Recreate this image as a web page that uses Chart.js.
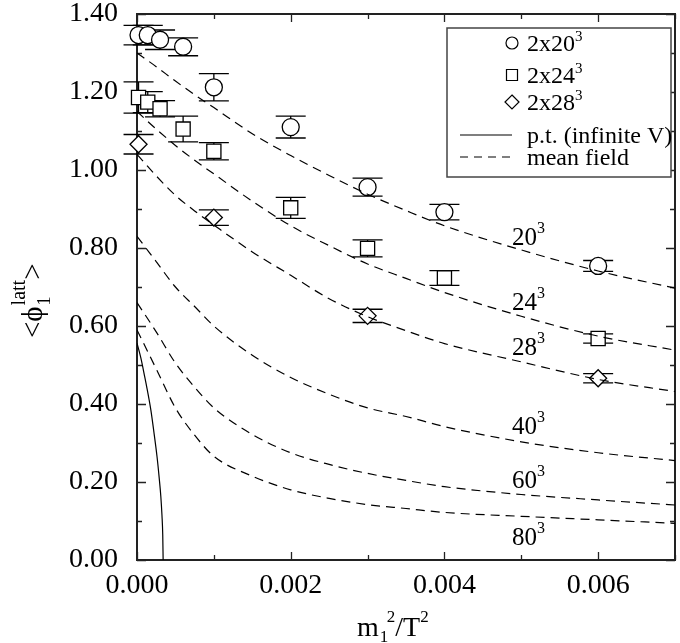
<!DOCTYPE html>
<html>
<head>
<meta charset="utf-8">
<title>phi1 latt vs m1^2/T^2</title>
<script src="https://cdn.jsdelivr.net/npm/chart.js@4.4.0/dist/chart.umd.min.js"></script>
<style>
  html, body { margin: 0; padding: 0; background: #fff; }
  #wrap { width: 680px; height: 643px; }
</style>
</head>
<body>
<div id="wrap"><canvas id="chart" width="680" height="643"></canvas></div>
<script>
// ---- data ----
// lattice points, 2x20^3
const x20 = [0.00002, 0.00014, 0.0003, 0.0006, 0.001, 0.002, 0.003, 0.004, 0.006];
const y20 = [1.346, 1.346, 1.334, 1.316, 1.212, 1.110, 0.956, 0.892, 0.754];
const e20 = [0.025, 0.025, 0.025, 0.023, 0.035, 0.028, 0.023, 0.020, 0.014];
// 2x24^3
const x24 = [0.00002, 0.00014, 0.0003, 0.0006, 0.001, 0.002, 0.003, 0.004, 0.006];
const y24 = [1.186, 1.174, 1.157, 1.105, 1.048, 0.903, 0.799, 0.723, 0.568];
const e24 = [0.040, 0.027, 0.021, 0.033, 0.022, 0.027, 0.022, 0.019, 0.012];
// 2x28^3
const x28 = [0.00002, 0.001, 0.003, 0.006];
const y28 = [1.066, 0.878, 0.626, 0.466];
const e28 = [0.025, 0.020, 0.017, 0.012];

// mean field curves, sampled at the same x values
const mfX  = [0, 0.00025, 0.0005, 0.00075, 0.001, 0.0015, 0.002, 0.0025, 0.003, 0.0035, 0.004, 0.005, 0.006, 0.007];
const mf20 = [1.30, 1.265, 1.228, 1.193, 1.160, 1.093, 1.037, 0.986, 0.938, 0.896, 0.857, 0.795, 0.741, 0.697];
const mf24 = [1.15, 1.105, 1.063, 1.025, 0.990, 0.920, 0.857, 0.806, 0.759, 0.722, 0.686, 0.625, 0.574, 0.538];
const mf28 = [1.04, 0.985, 0.935, 0.895, 0.859, 0.790, 0.730, 0.670, 0.624, 0.588, 0.555, 0.508, 0.463, 0.432];
const mf40 = [0.83, 0.765, 0.700, 0.650, 0.600, 0.525, 0.468, 0.425, 0.390, 0.368, 0.342, 0.303, 0.275, 0.255];
const mf60 = [0.66, 0.585, 0.505, 0.443, 0.390, 0.322, 0.275, 0.245, 0.222, 0.204, 0.188, 0.168, 0.154, 0.141];
const mf80 = [0.59, 0.490, 0.390, 0.320, 0.266, 0.215, 0.180, 0.158, 0.142, 0.132, 0.122, 0.112, 0.103, 0.094];
const mfNames = ['20', '24', '28', '40', '60', '80'];
// where each curve label sits (data units: left x, vertical centre y)
const mfLabelX = 0.00488;
const mfLabelY = [0.828, 0.662, 0.546, 0.344, 0.205, 0.059];

// perturbation theory, infinite volume
const ptX = [0, 0.00005, 0.0001, 0.00013, 0.00018, 0.00022, 0.00026, 0.00029, 0.00031, 0.000325, 0.000335, 0.00034];
const ptY = [0.556, 0.518, 0.470, 0.440, 0.385, 0.328, 0.266, 0.208, 0.163, 0.114, 0.064, 0.0];

// axis ticks
const xMajor = [0, 0.002, 0.004, 0.006];
const xMinor = [0.001, 0.003, 0.005, 0.007];
const yMajor = [0, 0.2, 0.4, 0.6, 0.8, 1.0, 1.2, 1.4];
const yMinor = [0.1, 0.3, 0.5, 0.7, 0.9, 1.1, 1.3];

const FONT = "'Liberation Serif', 'Times New Roman', serif";

const pts = (xs, ys) => xs.map((x, i) => ({ x: x, y: ys[i] }));

// draw a run of text pieces: [text, size, dy, dx]
function drawParts(ctx, x, y, parts) {
  let cx = x;
  parts.forEach(p => {
    const [t, size, dy, dx] = p;
    cx += dx || 0;
    ctx.font = size + 'px ' + FONT;
    ctx.fillText(t, cx, y + (dy || 0));
    cx += ctx.measureText(t).width;
  });
  return cx;
}

function marker(ctx, style, x, y, r) {
  ctx.beginPath();
  if (style === 'circle') {
    ctx.arc(x, y, r, 0, Math.PI * 2);
  } else if (style === 'rect') {
    ctx.rect(x - r, y - r, 2 * r, 2 * r);
  } else {
    ctx.moveTo(x, y - r); ctx.lineTo(x + r, y); ctx.lineTo(x, y + r); ctx.lineTo(x - r, y); ctx.closePath();
  }
  ctx.fillStyle = '#fff';
  ctx.fill();
  ctx.stroke();
}

// frame with inward ticks on all four sides, plus error bars
const framePlugin = {
  id: 'framePlugin',
  beforeDatasetsDraw(chart) {
    const ctx = chart.ctx;
    const a = chart.chartArea;
    const xs = chart.scales.x, ys = chart.scales.y;
    ctx.save();
    ctx.strokeStyle = '#222';
    ctx.lineWidth = 2;
    ctx.strokeRect(a.left, a.top, a.right - a.left, a.bottom - a.top);
    ctx.lineWidth = 1.3;
    ctx.beginPath();
    const xt = (vals, len) => vals.forEach(v => {
      const px = Math.round(xs.getPixelForValue(v)) + 0.5;
      ctx.moveTo(px, a.bottom); ctx.lineTo(px, a.bottom - len);
      ctx.moveTo(px, a.top); ctx.lineTo(px, a.top + len);
    });
    const yt = (vals, len) => vals.forEach(v => {
      const py = Math.round(ys.getPixelForValue(v)) + 0.5;
      ctx.moveTo(a.left, py); ctx.lineTo(a.left + len, py);
      ctx.moveTo(a.right, py); ctx.lineTo(a.right - len, py);
    });
    xt(xMajor, 8); xt(xMinor, 5);
    yt(yMajor, 9); yt(yMinor, 5);
    ctx.stroke();

    // error bars
    ctx.strokeStyle = '#000';
    ctx.lineWidth = 1.3;
    chart.data.datasets.forEach(ds => {
      if (!ds.errs) return;
      ds.data.forEach((p, i) => {
        const px = xs.getPixelForValue(p.x);
        const top = ys.getPixelForValue(p.y + ds.errs[i]);
        const bot = ys.getPixelForValue(p.y - ds.errs[i]);
        ctx.beginPath();
        ctx.moveTo(px, top); ctx.lineTo(px, bot);
        ctx.moveTo(px - 15, top); ctx.lineTo(px + 15, top);
        ctx.moveTo(px - 15, bot); ctx.lineTo(px + 15, bot);
        ctx.stroke();
      });
    });
    ctx.restore();
  },
  afterDraw(chart) {
    const ctx = chart.ctx;
    const xs = chart.scales.x, ys = chart.scales.y;
    ctx.save();
    ctx.fillStyle = '#000';
    ctx.textBaseline = 'alphabetic';

    // curve labels
    mfNames.forEach((n, i) => {
      const lx = xs.getPixelForValue(mfLabelX);
      const ly = ys.getPixelForValue(mfLabelY[i]) + 8;
      drawParts(ctx, lx, ly, [[n, 25, 0], ['3', 16, -12]]);
    });

    // legend
    const bx = 447, by = 28, bw = 224, bh = 149;
    ctx.fillStyle = '#fff';
    ctx.fillRect(bx, by, bw, bh);
    ctx.strokeStyle = '#444';
    ctx.lineWidth = 1.5;
    ctx.strokeRect(bx, by, bw, bh);
    ctx.fillStyle = '#000';
    ctx.strokeStyle = '#000';
    ctx.lineWidth = 1.2;
    const symX = 512, txtX = 527;
    const rows = [
      ['circle', '20', 43, 6],
      ['rect', '24', 75, 5.5],
      ['diamond', '28', 102, 7]
    ];
    rows.forEach(r => {
      marker(ctx, r[0], symX, r[2], r[3]);
      ctx.fillStyle = '#000';
      drawParts(ctx, txtX, r[2] + 8, [['2x' + r[1], 24, 0], ['3', 15, -10]]);
    });
    ctx.beginPath();
    ctx.moveTo(460, 135); ctx.lineTo(512, 135);
    ctx.stroke();
    drawParts(ctx, txtX, 143, [['p.t. (infinite V)', 24, 0]]);
    ctx.setLineDash([8, 6]);
    ctx.beginPath();
    ctx.moveTo(460, 157); ctx.lineTo(512, 157);
    ctx.stroke();
    ctx.setLineDash([]);
    drawParts(ctx, txtX, 165, [['mean field', 24, 0]]);

    // x title: m_1^2/T^2
    let ex = drawParts(ctx, 357, 636, [['m', 28, 0]]);
    ctx.font = '17px ' + FONT;
    ctx.fillText('1', ex + 1, 642);
    ex = drawParts(ctx, ex + 8, 636, [['2', 17, -14], ['/', 28, 0], ['T', 28, 0], ['2', 17, -14]]);

    // y title: <phi_1^latt>, rotated
    ctx.translate(42, 338);
    ctx.rotate(-Math.PI / 2);
    let ey = drawParts(ctx, 0, 0, [['<', 29, 0], ['\u03d5', 29, 0]]);
    ctx.font = '18px ' + FONT;
    ctx.fillText('1', ey + 1, 8);
    drawParts(ctx, ey + 1, 0, [['latt', 20, -17], ['>', 29, 0]]);
    ctx.restore();
  }
};

const markerSet = (label, xs, ys, es, style, r) => ({
  label: label,
  data: pts(xs, ys),
  errs: es,
  showLine: false,
  pointStyle: style,
  pointRadius: r,
  pointHoverRadius: r,
  pointBackgroundColor: '#fff',
  pointBorderColor: '#000',
  pointBorderWidth: 1.3,
  clip: false
});

const curveSet = (label, ys) => ({
  label: label,
  data: pts(mfX, ys),
  showLine: true,
  borderColor: '#000',
  borderWidth: 1.2,
  borderDash: [9, 6],
  pointRadius: 0,
  cubicInterpolationMode: 'monotone',
  fill: false
});

const ctx = document.getElementById('chart').getContext('2d');
new Chart(ctx, {
  type: 'scatter',
  data: {
    datasets: [
      curveSet('20^3', mf20),
      curveSet('24^3', mf24),
      curveSet('28^3', mf28),
      curveSet('40^3', mf40),
      curveSet('60^3', mf60),
      curveSet('80^3', mf80),
      {
        label: 'p.t. (infinite V)',
        data: pts(ptX, ptY),
        showLine: true,
        borderColor: '#000',
        borderWidth: 1.2,
        pointRadius: 0,
        cubicInterpolationMode: 'monotone',
        fill: false
      },
      markerSet('2x20^3', x20, y20, e20, 'circle', 8.5),
      markerSet('2x24^3', x24, y24, e24, 'rect', 10),
      markerSet('2x28^3', x28, y28, e28, 'rectRot', 8.5)
    ]
  },
  options: {
    responsive: false,
    devicePixelRatio: 1,
    animation: false,
    layout: { autoPadding: false, padding: { top: 14, right: 5, left: 0, bottom: 0 } },
    plugins: {
      legend: { display: false },
      tooltip: { enabled: false }
    },
    scales: {
      x: {
        type: 'linear',
        min: 0,
        max: 0.007,
        grid: { display: false, drawTicks: false },
        border: { display: false },
        afterBuildTicks: s => { s.ticks = xMajor.map(v => ({ value: v })); },
        afterFit: s => { s.height = 83; s.paddingLeft = 0; s.paddingRight = 0; },
        ticks: {
          color: '#000',
          padding: 12,
          maxRotation: 0,
          font: { family: FONT, size: 28, lineHeight: 1 },
          callback: v => v.toFixed(3)
        }
      },
      y: {
        type: 'linear',
        min: 0,
        max: 1.4,
        grid: { display: false, drawTicks: false },
        border: { display: false },
        afterBuildTicks: s => { s.ticks = yMajor.map(v => ({ value: v })); },
        afterFit: s => { s.width = 137; s.paddingTop = 0; s.paddingBottom = 0; },
        ticks: {
          color: '#000',
          padding: 19,
          font: { family: FONT, size: 28, lineHeight: 1 },
          callback: v => v.toFixed(2)
        }
      }
    }
  },
  plugins: [framePlugin]
});
</script>
</body>
</html>
